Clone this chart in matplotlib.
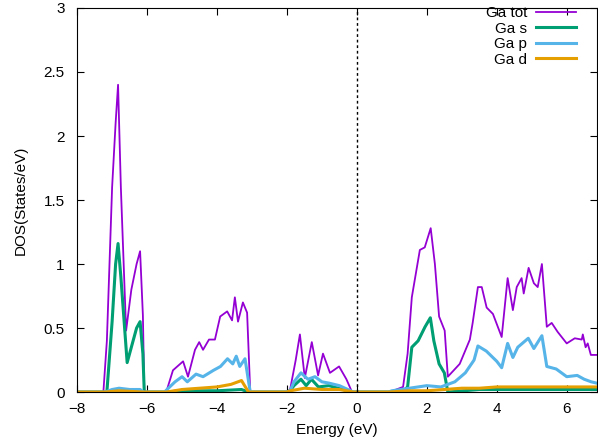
import numpy as np
import matplotlib.pyplot as plt

# DOS curves (energy in eV, DOS in states/eV)
e_tot = [-8, -7.25, -7.15, -7.0, -6.9, -6.83, -6.75, -6.6, -6.45, -6.3, -6.2, -6.12, -6.08, -5.5,
         -5.43, -5.26, -4.97, -4.83, -4.63, -4.51, -4.4, -4.23, -4.06, -3.91, -3.71, -3.57, -3.49,
         -3.4, -3.26, -3.14, -3.05, -2.0,
         -1.91, -1.75, -1.63, -1.49, -1.29, -1.11, -0.97, -0.77, -0.51, -0.3, -0.14, 0.9,
         1.03, 1.32, 1.45, 1.57, 1.8, 1.94, 2.11, 2.23, 2.35, 2.51, 2.6, 2.94, 3.23, 3.31, 3.46, 3.57,
         3.71, 3.89, 4.14, 4.31, 4.46, 4.57, 4.71, 4.77, 4.91, 5.06, 5.17, 5.29, 5.43, 5.57,
         5.74, 6.0, 6.23, 6.43, 6.46, 6.54, 6.6, 6.69, 6.85]
dos_tot = [0, 0, 0.4, 1.6, 2.1, 2.4, 1.6, 0.48, 0.8, 1.0, 1.1, 0.6, 0, 0,
           0.02, 0.17, 0.24, 0.12, 0.33, 0.39, 0.33, 0.41, 0.41, 0.59, 0.63, 0.56, 0.74,
           0.55, 0.70, 0.62, 0, 0,
           0.02, 0.25, 0.45, 0.11, 0.39, 0.13, 0.3, 0.15, 0.2, 0.1, 0, 0,
           0.01, 0.04, 0.3, 0.74, 1.11, 1.13, 1.28, 1.0, 0.59, 0.48, 0.12, 0.22, 0.41, 0.54, 0.82, 0.82,
           0.66, 0.61, 0.43, 0.89, 0.64, 0.82, 0.89, 0.77, 0.97, 0.85, 0.82, 1.0, 0.51, 0.54,
           0.47, 0.38, 0.42, 0.41, 0.45, 0.35, 0.38, 0.29, 0.29]

e_s = [-8, -7.15, -7.0, -6.9, -6.83, -6.75, -6.57, -6.45, -6.3, -6.2, -6.12, -6.08, -5.45,
       -5.0, -4.0, -3.3, -3.1, -2.0, -1.91, -1.8, -1.6, -1.45, -1.3, -1.1, -0.8, -0.4, -0.1,
       1.3, 1.45, 1.57, 1.75, 1.95, 2.1, 2.2, 2.35, 2.5, 2.6, 3.5, 4.5, 5.5, 6.85]
dos_s = [0, 0, 0.55, 1.0, 1.16, 0.9, 0.23, 0.35, 0.5, 0.55, 0.3, 0, 0,
         0.01, 0.01, 0.02, 0, 0, 0.01, 0.05, 0.1, 0.05, 0.1, 0.04, 0.05, 0.02, 0,
         0, 0.04, 0.35, 0.4, 0.51, 0.58, 0.4, 0.22, 0.15, 0, 0.02, 0.02, 0.02, 0.02]

e_p = [-8, -7.2, -7.0, -6.8, -6.5, -6.2, -6.1, -5.5, -5.43, -5.2, -5.0, -4.85, -4.6, -4.4,
       -4.1, -3.9, -3.7, -3.55, -3.45, -3.35, -3.2, -3.05, -2.0, -1.91, -1.8, -1.6, -1.4, -1.2,
       -1.0, -0.8, -0.5, -0.1, 0.9, 1.0, 1.5, 2.0, 2.4, 2.8, 3.1, 3.35, 3.46, 3.7, 4.0, 4.14,
       4.31, 4.46, 4.6, 4.9, 5.06, 5.29, 5.43, 5.7, 6.0, 6.3, 6.5, 6.7, 6.85]
dos_p = [0, 0, 0.02, 0.03, 0.02, 0.02, 0, 0, 0.02, 0.08, 0.12, 0.08, 0.14, 0.12,
         0.17, 0.2, 0.26, 0.22, 0.28, 0.2, 0.26, 0, 0, 0.01, 0.08, 0.15, 0.1, 0.12,
         0.08, 0.07, 0.05, 0, 0, 0.01, 0.03, 0.05, 0.04, 0.08, 0.15, 0.25, 0.36, 0.32, 0.24, 0.19,
         0.38, 0.27, 0.35, 0.42, 0.34, 0.44, 0.2, 0.18, 0.12, 0.13, 0.1, 0.08, 0.07]

e_d = [-8, -7.2, -6.8, -6.1, -5.45, -5.0, -4.5, -4.0, -3.6, -3.3, -3.1, -2.0, -1.9, -1.5,
       -1.0, -0.5, -0.1, 0.9, 1.5, 2.0, 2.5, 3.0, 3.5, 4.0, 4.5, 5.0, 5.5, 6.0, 6.5, 6.85]
dos_d = [0, 0, 0.01, 0, 0, 0.02, 0.03, 0.04, 0.06, 0.09, 0, 0, 0.01, 0.03,
         0.02, 0.02, 0, 0, 0.01, 0.01, 0.02, 0.03, 0.03, 0.04, 0.04, 0.04, 0.04, 0.04, 0.04, 0.04]

plt.rcParams['font.family'] = ['Liberation Sans', 'DejaVu Sans']
fig = plt.figure(figsize=(5.98, 4.43), dpi=100)
ax = fig.add_axes([0.129, 0.115, 0.869, 0.867])

ax.plot(e_tot, dos_tot, color='#9400d3', lw=1.3, label='Ga tot')
ax.plot(e_s, dos_s, color='#009e73', lw=2.2, label='Ga s')
ax.plot(e_p, dos_p, color='#56b4e9', lw=2.2, label='Ga p')
ax.plot(e_d, dos_d, color='#e69f00', lw=2.2, label='Ga d')
ax.axvline(0, color='black', ls=(0, (2, 2)), lw=1)

ax.set_xlim(-8, 6.86)
ax.set_ylim(0, 3)
ax.set_xticks([-8, -6, -4, -2, 0, 2, 4, 6])
ax.set_yticks([0, 0.5, 1, 1.5, 2, 2.5, 3])
ax.set_yticklabels(['0', '0.5', '1', '1.5', '2', '2.5', '3'])
ax.tick_params(direction='in', top=True, right=True, labelsize=11, length=5)
ax.tick_params(axis='x', pad=7)
ax.tick_params(axis='y', pad=9)
ax.set_xlabel('Energy (eV)', fontsize=11, labelpad=5)
ax.set_ylabel('DOS(States/eV)', fontsize=11, labelpad=11)

ax.legend(loc='upper right', bbox_to_anchor=(0.96, 1.005), frameon=False,
          markerfirst=False, fontsize=11, handlelength=2.6, handletextpad=0.6,
          labelspacing=0.1, borderpad=0, borderaxespad=0)

fig.savefig('out.png', dpi=100)
